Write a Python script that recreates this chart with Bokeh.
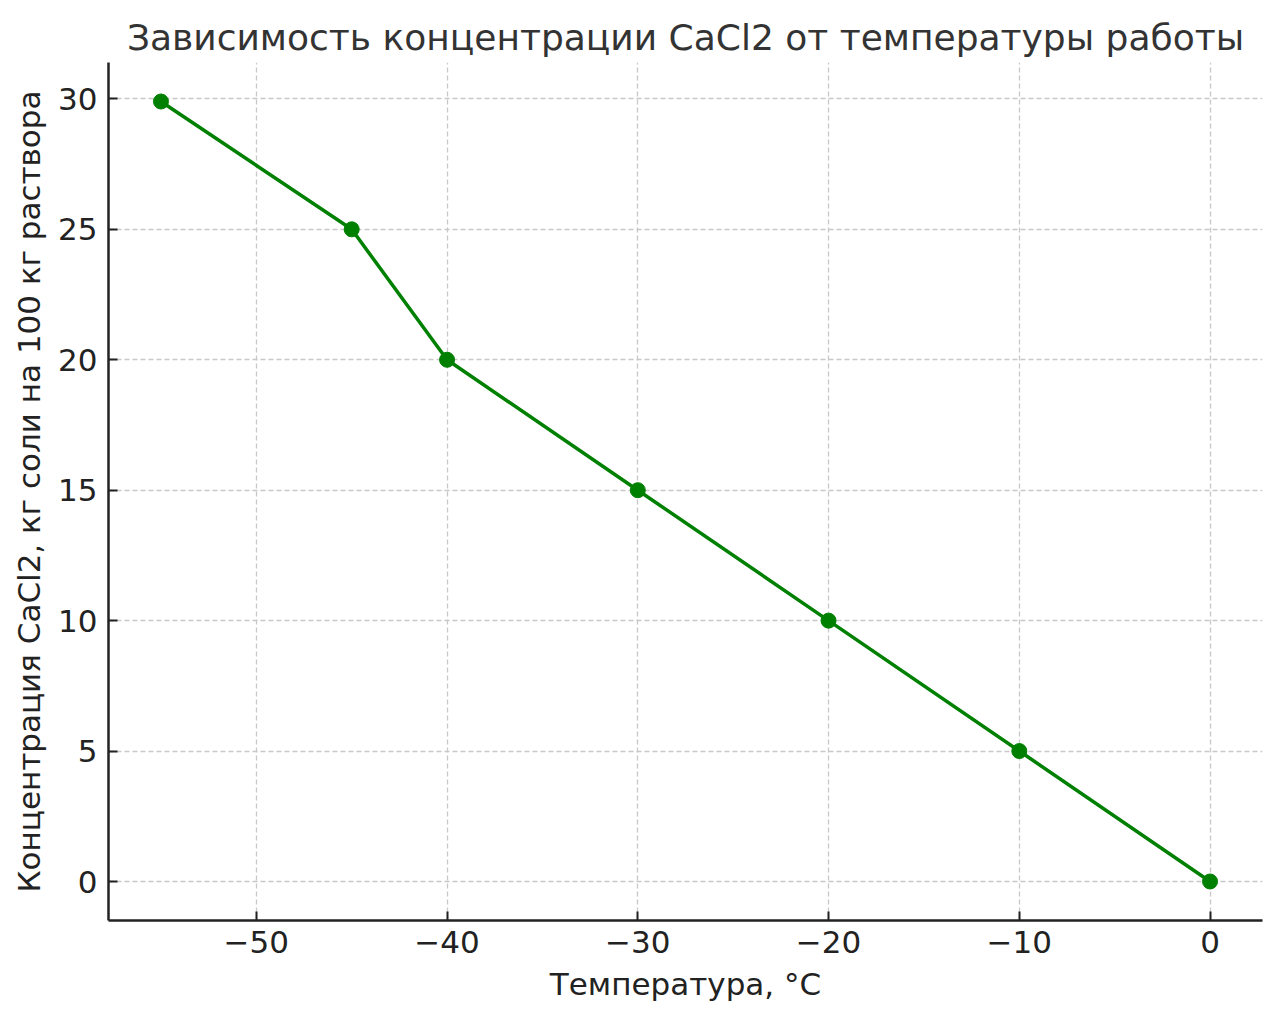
from bokeh.plotting import figure
from bokeh.models import Range1d, FixedTicker
from bokeh.embed import file_html
from bokeh.resources import INLINE

temperature = [-55, -45, -40, -30, -20, -10, 0]
concentration = [29.9, 25, 20, 15, 10, 5, 0]
x_ticks = [-50, -40, -30, -20, -10, 0]
y_ticks = [0, 5, 10, 15, 20, 25, 30]

title = "Зависимость концентрации CaCl2 от температуры работы"
x_label = "Температура, °C"
y_label = "Концентрация CaCl2, кг соли на 100 кг раствора"

FONT = "DejaVu Sans"

xspan = max(temperature) - min(temperature)
yspan = max(concentration) - min(concentration)

p = figure(width=1264, height=1004, output_backend="svg", toolbar_location=None,
           x_range=Range1d(min(temperature) - 0.05 * xspan, max(temperature) + 0.05 * xspan),
           y_range=Range1d(min(concentration) - 0.05 * yspan, max(concentration) + 0.05 * yspan),
           min_border_left=108, min_border_right=2, min_border_top=62, min_border_bottom=84)

p.title.text = title
p.title.align = "center"
p.title.text_font = FONT
p.title.text_font_size = "36px"
p.title.text_font_style = "normal"
p.title.text_color = "#333333"
p.title.offset = 0

p.outline_line_color = None
p.background_fill_color = "white"

p.xaxis.ticker = FixedTicker(ticks=x_ticks)
p.yaxis.ticker = FixedTicker(ticks=y_ticks)
p.xaxis.major_label_overrides = {t: str(t).replace("-", "\u2212") for t in x_ticks}
p.yaxis.major_label_overrides = {t: str(t) for t in y_ticks}

for ax in (p.xaxis, p.yaxis):
    ax.axis_line_color = "#222222"
    ax.axis_line_width = 2.5
    ax.major_tick_line_color = "#222222"
    ax.major_tick_line_width = 2
    ax.major_tick_in = 9
    ax.major_tick_out = 0
    ax.minor_tick_line_color = None
    ax.major_label_text_font = FONT
    ax.major_label_text_font_size = "31px"
    ax.major_label_text_color = "#222222"
    ax.axis_label_text_font = FONT
    ax.axis_label_text_font_size = "31px"
    ax.axis_label_text_font_style = "normal"
    ax.axis_label_text_color = "#222222"

p.xaxis.axis_label = x_label
p.yaxis.axis_label = y_label
p.xaxis.major_label_standoff = 10
p.yaxis.major_label_standoff = 11
p.xaxis.axis_label_standoff = 10
p.yaxis.axis_label_standoff = 8

p.grid.grid_line_color = "#c8c8c8"
p.grid.grid_line_dash = "5 3"
p.grid.grid_line_width = 1.3

p.line(temperature, concentration, line_color="green", line_width=3.5)
p.scatter(temperature, concentration, size=15, fill_color="green", line_color="green")

open("out.html", "w").write(file_html(p, INLINE))
